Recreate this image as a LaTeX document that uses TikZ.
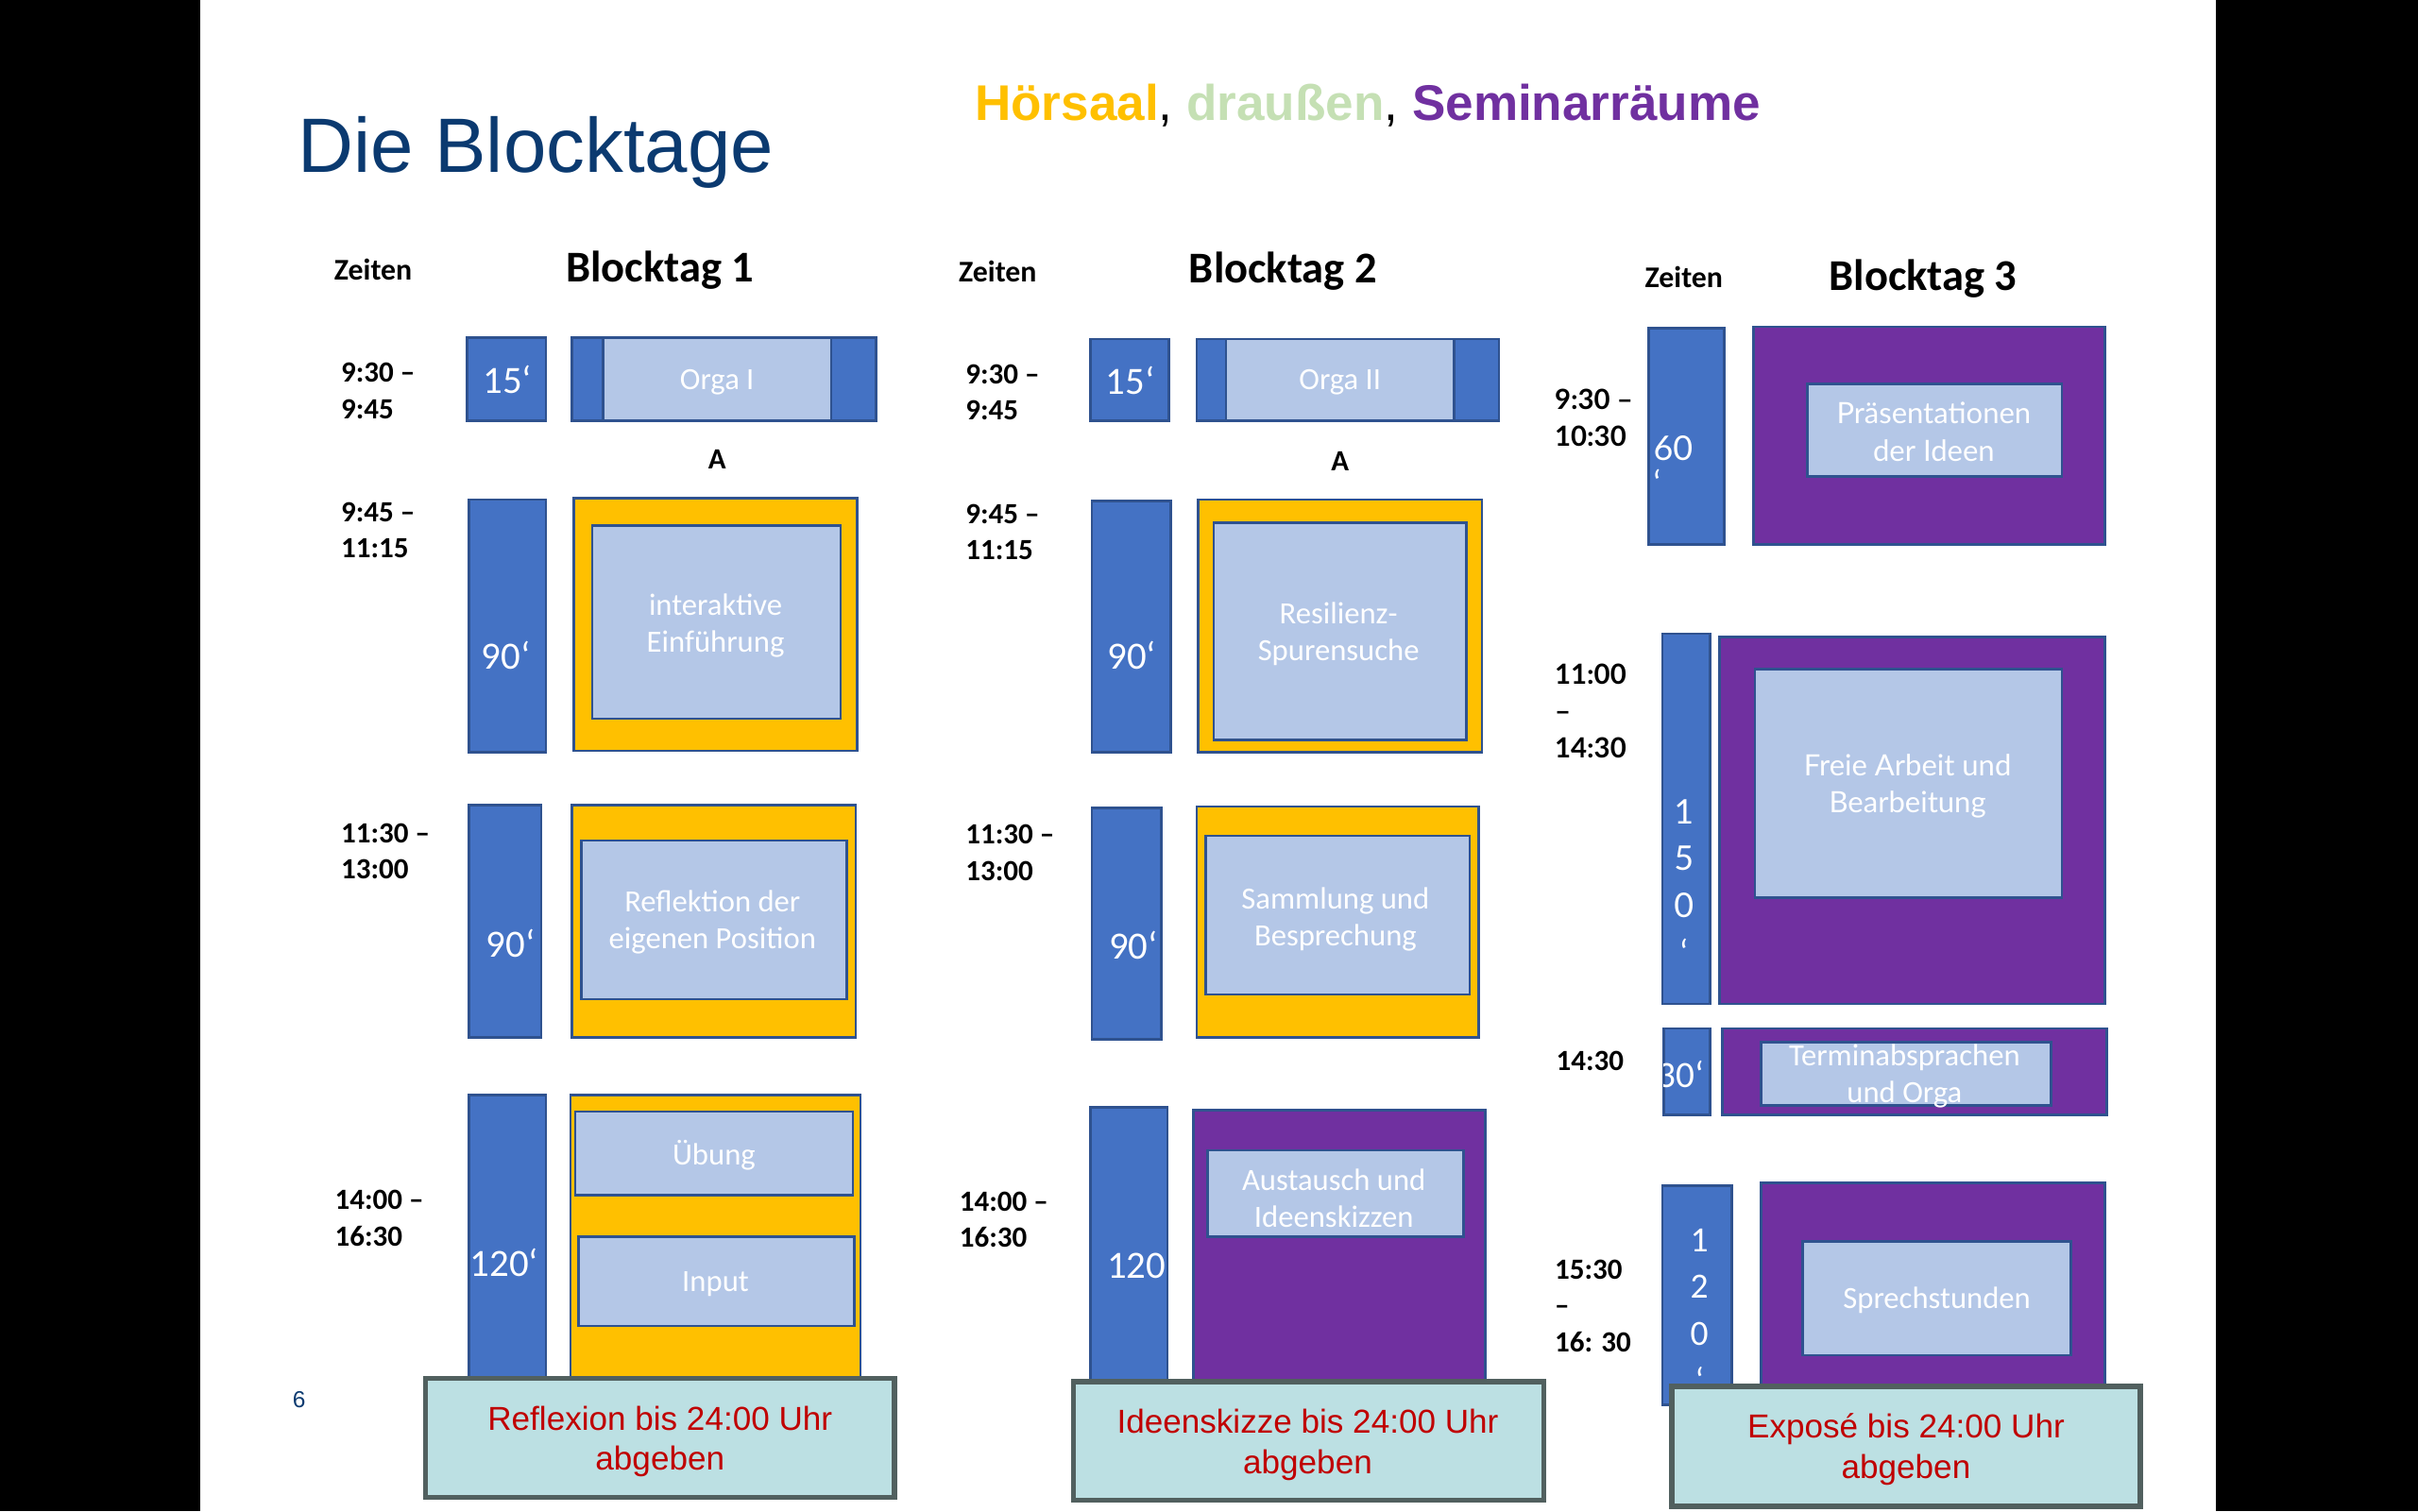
\documentclass[tikz,border=0pt]{standalone}
\usepackage{fontspec}
\setmainfont{Carlito}
\newfontfamily\arialf{Liberation Sans}
\newfontfamily\latof{Lato}
\definecolor{boxblue}{HTML}{4472C4}
\definecolor{bordc}{HTML}{2F528F}
\definecolor{lightblue}{HTML}{B4C7E7}
\definecolor{gold}{HTML}{FFC000}
\definecolor{purp}{HTML}{7030A0}
\definecolor{lgreen}{HTML}{C5E0B4}
\definecolor{duefill}{HTML}{BCE0E3}
\definecolor{duegray}{HTML}{51605F}
\definecolor{duered}{HTML}{C00000}
\definecolor{titleblue}{HTML}{0B3A70}
\newcommand\rbox[6]{%
  \node[#2, rectangle, inner sep=0pt, outer sep=0pt,
        minimum width={(#5-#3)*1pt}, minimum height={(#6-#4)*1pt}]
        (#1) at ({(#3+#5)/2},{(#4+#6)/2}) {};}
\tikzset{
  base/.style={line width=1.6pt, draw=bordc},
  bluebox/.style={base, fill=boxblue},
  lightbox/.style={base, fill=lightblue},
  goldbox/.style={base, fill=gold},
  purpbox/.style={base, fill=purp},
  duebox/.style={line width=3.4pt, draw=duegray, fill=duefill},
  boxtxt/.style={text=white, font=\fontsize{20}{24}\selectfont, align=center, inner sep=0pt},
  boxtxtl/.style={text=white, font=\latof\fontsize{19}{24}\selectfont, align=center, inner sep=0pt},
  mintxt/.style={text=white, font=\fontsize{25}{28}\selectfont, inner sep=0pt},
  timetxt/.style={font=\bfseries\fontsize{19}{23.5}\selectfont, align=left, anchor=west, inner sep=0pt},
  timetxtl/.style={font=\latof\bfseries\fontsize{18}{24}\selectfont, align=left, anchor=west, inner sep=0pt},
  zeiten/.style={font=\bfseries\fontsize{19.5}{22}\selectfont, inner sep=0pt},
  daytitle/.style={font=\bfseries\fontsize{28.5}{30}\selectfont, inner sep=0pt},
  duetxt/.style={text=duered, font=\arialf\fontsize{21.5}{26}\selectfont, align=center, inner sep=0pt},
  albl/.style={font=\bfseries\fontsize{19}{20}\selectfont, inner sep=0pt},
}
\begin{document}
\begin{tikzpicture}[x=1pt,y=-1pt]
\useasboundingbox (0,0) rectangle (1568,980);
\fill[white] (0,0) rectangle (1568,980);
\fill[black] (0,0) rectangle (130,980);
\fill[black] (1437,0) rectangle (1568,980);

% Title and legend
\node[anchor=base west, inner sep=0pt, text=titleblue, font=\arialf\fontsize{50}{55}\selectfont] (title) at (193,112) {Die Blocktage};
\node[anchor=base west, inner sep=0pt, font=\arialf\fontsize{32.5}{36}\selectfont] (legend) at (632,78)
  {{\bfseries\color{gold}Hörsaal}, {\bfseries\color{lgreen}draußen}, {\bfseries\color{purp}Seminarräume}};
\node[inner sep=0pt, text=titleblue, font=\arialf\fontsize{15}{18}\selectfont] (pagenum) at (194,908) {6};

% ================= Column 1 =================
\node[zeiten] (z1) at (242,175) {Zeiten};
\node[daytitle] (d1) at (428,175) {Blocktag 1};

\node[timetxt] (t1a) at (221,253.5) {9:30 –\\9:45};
\rbox{m1a}{bluebox}{303}{219}{354}{273}
\node[mintxt] (m1at) at (329,246) {15‘};
\rbox{o1a}{bluebox}{371}{219}{568}{273}
\rbox{i1a}{lightbox}{391}{219}{539}{273}
\node[boxtxt] (x1a) at (465,248) {Orga I};
\node[albl] (a1) at (465,298) {A};

\node[timetxt] (t1b) at (221,344) {9:45 –\\11:15};
\rbox{m1b}{bluebox}{304}{324}{354}{488}
\node[mintxt] (m1bt) at (328,425) {90‘};
\rbox{o1b}{goldbox}{372}{323}{556}{487}
\rbox{i1b}{lightbox}{384}{341}{545}{466}
\node[boxtxt] (x1b) at (464,406) {interaktive\\Einführung};

\node[timetxt] (t1c) at (221,552) {11:30 –\\13:00};
\rbox{m1c}{bluebox}{304}{522}{351}{673}
\node[mintxt] (m1ct) at (331,612) {90‘};
\rbox{o1c}{goldbox}{371}{522}{555}{673}
\rbox{i1c}{lightbox}{377}{545}{549}{648}
\node[boxtxt] (x1c) at (462,598) {Reflektion der\\eigenen Position};

\node[timetxt] (t1d) at (217,790) {14:00 –\\16:30};
\rbox{m1d}{bluebox}{304}{710}{354}{900}
\node[mintxt] (m1dt) at (327,819) {120‘};
\rbox{o1d}{goldbox}{370}{710}{558}{900}
\rbox{i1d}{lightbox}{373}{721}{553}{775}
\node[boxtxt] (x1d) at (463,749) {Übung};
\rbox{i1e}{lightbox}{375}{802}{554}{860}
\node[boxtxt] (x1e) at (464,833) {Input};

% ================= Column 2 =================
\node[zeiten] (z2) at (647,176) {Zeiten};
\node[daytitle] (d2) at (832,176) {Blocktag 2};

\node[timetxt] (t2a) at (626,254.5) {9:30 –\\9:45};
\rbox{m2a}{bluebox}{707}{220}{758}{273}
\node[mintxt] (m2at) at (733,247) {15‘};
\rbox{o2a}{bluebox}{776}{220}{972}{273}
\rbox{i2a}{lightbox}{795}{220}{943}{273}
\node[boxtxt] (x2a) at (869,248) {Orga II};
\node[albl] (a2) at (869,299) {A};

\node[timetxt] (t2b) at (626,345) {9:45 –\\11:15};
\rbox{m2b}{bluebox}{708}{325}{759}{488}
\node[mintxt] (m2bt) at (734,425) {90‘};
\rbox{o2b}{goldbox}{777}{324}{961}{488}
\rbox{i2b}{lightbox}{787}{339}{951}{480}
\node[boxtxt] (x2b) at (868,411) {Resilienz-\\Spurensuche};

\node[timetxt] (t2c) at (626,553) {11:30 –\\13:00};
\rbox{m2c}{bluebox}{708}{524}{753}{674}
\node[mintxt] (m2ct) at (735,613) {90‘};
\rbox{o2c}{goldbox}{776}{523}{959}{673}
\rbox{i2c}{lightbox}{782}{542}{953}{645}
\node[boxtxt] (x2c) at (866,596) {Sammlung und\\Besprechung};

\node[timetxt] (t2d) at (622,791) {14:00 –\\16:30};
\rbox{m2d}{bluebox}{707}{718}{757}{900}
\node[mintxt] (m2dt) at (737,821) {120};
\rbox{o2d}{purpbox}{774}{720}{963}{900}
\rbox{i2d}{lightbox}{783}{746}{949}{802}
\node[boxtxt] (x2d) at (865,777) {Austausch und\\Ideenskizzen};

% ================= Column 3 =================
\node[zeiten] (z3) at (1092,180) {Zeiten};
\node[daytitle] (d3) at (1247,181) {Blocktag 3};

\node[timetxtl] (t3a) at (1008,271) {9:30 –\\10:30};
\rbox{m3a}{bluebox}{1069}{213}{1118}{353}
\node[text=white, font=\latof\fontsize{22}{23}\selectfont, align=left, anchor=west, inner sep=0pt] (m3at) at (1072,302) {60\\‘};
\rbox{o3a}{purpbox}{1137}{212}{1365}{353}
\rbox{i3a}{lightbox}{1172}{249}{1337}{309}
\node[boxtxtl] (x3a) at (1254,280) {Präsentationen\\der Ideen};

\node[timetxtl] (t3b) at (1008,461) {11:00\\–\\14:30};
\rbox{m3b}{bluebox}{1078}{411}{1109}{651}
\node[text=white, font=\latof\fontsize{22}{30.5}\selectfont, align=center, inner sep=0pt] (m3bt) at (1092,572) {1\\5\\0\\‘};
\rbox{o3b}{purpbox}{1115}{413}{1365}{651}
\rbox{i3b}{lightbox}{1138}{434}{1337}{582}
\node[boxtxtl] (x3b) at (1237,510) {Freie Arbeit und\\Bearbeitung};

\node[timetxt] (t3c) at (1009,688) {14:30};
\rbox{m3c}{bluebox}{1079}{667}{1109}{723}
\begin{scope}
  \clip (1079,667) rectangle (1109,723);
  \node[mintxt, font=\fontsize{24}{26}\selectfont] (m3ct) at (1090,697) {30‘};
\end{scope}
\rbox{o3c}{purpbox}{1117}{667}{1366}{723}
\rbox{i3c}{lightbox}{1142}{676}{1330}{717}
\node[boxtxt] (x3c) at (1235,698) {Terminabsprachen\\und Orga};

\node[timetxt] (t3d) at (1008,847) {15:30\\–\\16: 30};
\rbox{m3d}{bluebox}{1078}{769}{1123}{911}
\node[text=white, font=\fontsize{23}{30.5}\selectfont, align=center, inner sep=0pt] (m3dt) at (1102,850) {1\\2\\0\\‘};
\rbox{o3d}{purpbox}{1142}{767}{1365}{905}
\rbox{i3d}{lightbox}{1169}{805}{1343}{879}
\node[boxtxt] (x3d) at (1256,843) {Sprechstunden};

% ================= Deadlines =================
\rbox{due1}{duebox}{276}{894}{580}{971}
\node[duetxt] (due1t) at (428,935) {Reflexion bis 24:00 Uhr\\abgeben};
\rbox{due2}{duebox}{696}{896}{1001}{973}
\node[duetxt] (due2t) at (848,937) {Ideenskizze bis 24:00 Uhr\\abgeben};
\rbox{due3}{duebox}{1084}{899}{1388}{977}
\node[duetxt] (due3t) at (1236,940) {Exposé bis 24:00 Uhr\\abgeben};
\end{tikzpicture}
\end{document}
